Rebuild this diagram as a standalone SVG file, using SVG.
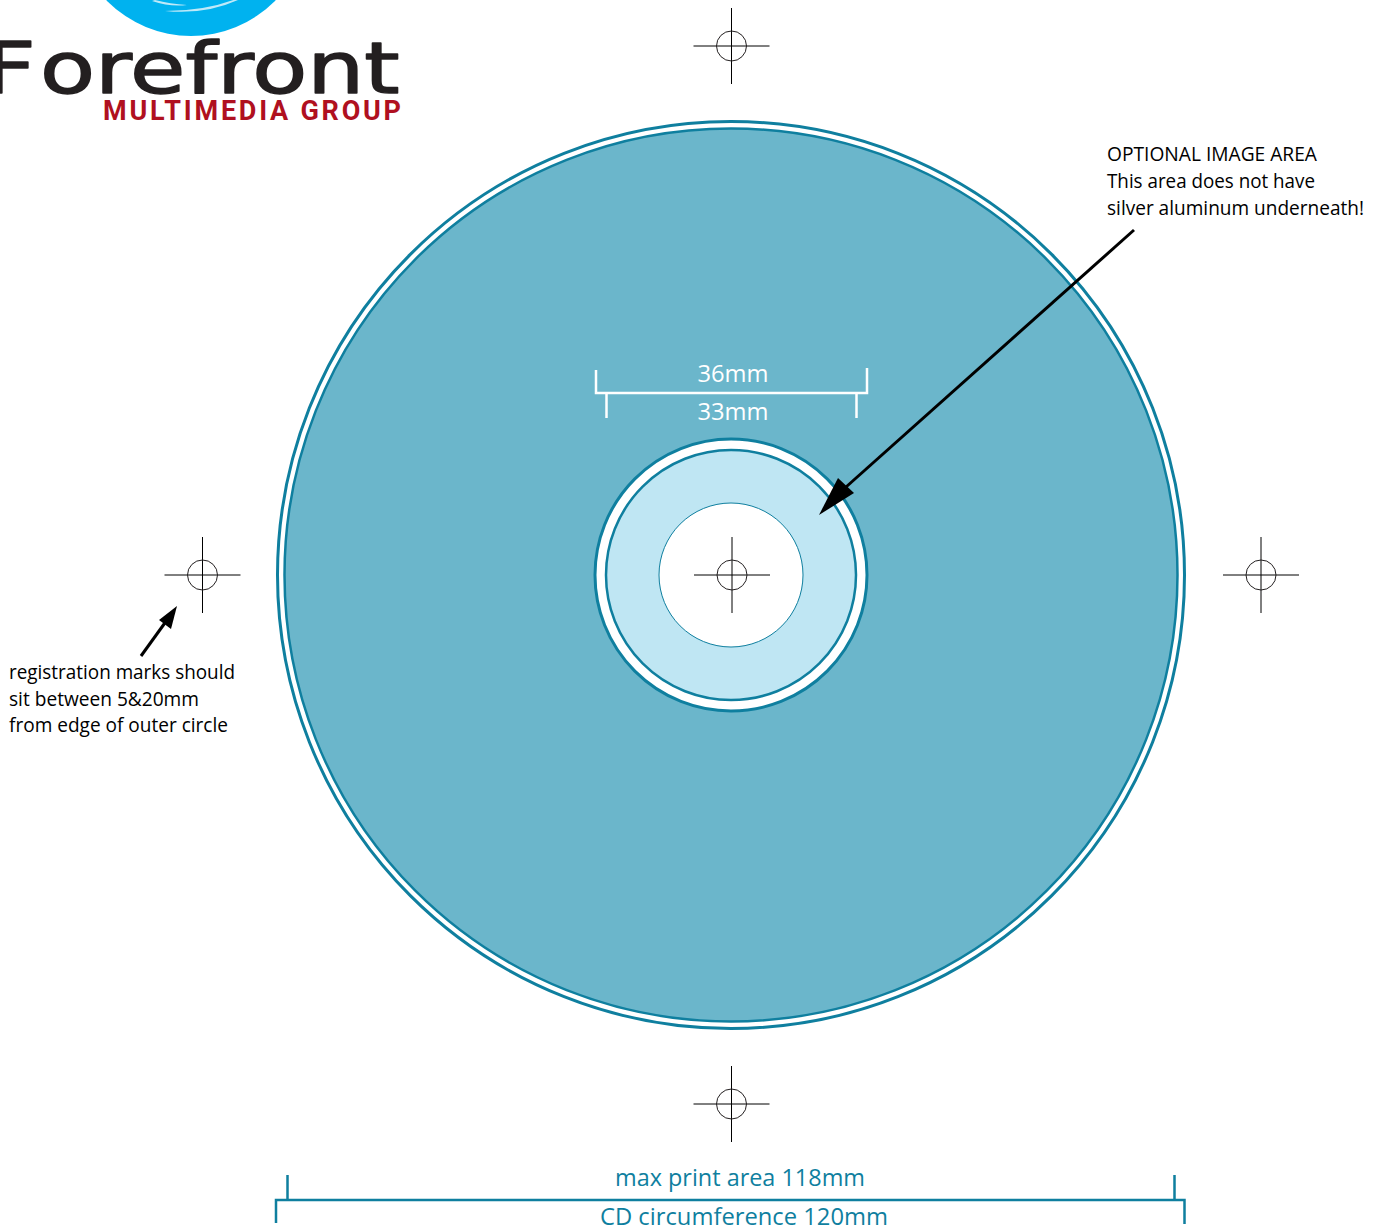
<svg xmlns="http://www.w3.org/2000/svg" width="1375" height="1229" viewBox="0 0 1375 1229">
<style>
.lbl{font-family:"Open Sans","Noto Sans",sans-serif;font-size:20px;fill:#000}
.dimw{font-family:"Open Sans","Noto Sans",sans-serif;font-size:24px;fill:#fff;text-anchor:middle}
.dimb{font-family:"Open Sans","Noto Sans",sans-serif;font-size:24px;fill:#0f7f9f;text-anchor:middle}
.reg line{stroke:#000;stroke-width:1}
.reg circle{fill:none;stroke:#231f20;stroke-width:1}
</style>
<defs>
<g id="regmark" class="reg"><line x1="-38" y1="0" x2="38" y2="0"/><line x1="0" y1="-38" x2="0" y2="38"/><circle r="15"/></g>
</defs>
<rect width="1375" height="1229" fill="#fff"/>
<g id="logo">
<circle cx="191" cy="-82" r="118" fill="#00b2ef"/>
<path d="M155 0Q170 4 187 5Q170 7 152 1Z" fill="#bfe9f8"/>
<path d="M165 11Q205 11 236 -1L238 0Q205 15 165 11Z" fill="#bfe9f8"/>
<g transform="translate(-16 93) scale(1.25 1)"><text x="0" y="0" font-family="'DejaVu Sans',sans-serif" font-size="72" fill="#231f20" stroke="#231f20" stroke-width="1.500" stroke-linejoin="round">F<tspan dx="3.400">orefront</tspan></text></g>
<text x="103" y="119.500" font-family="Roboto,'Liberation Sans',sans-serif" font-size="27" font-weight="700" fill="#b01020" textLength="298" lengthAdjust="spacing">MULTIMEDIA GROUP</text>
</g>
<g id="disc">
<circle cx="731" cy="575" r="453.500" fill="#fff" stroke="#0f7f9f" stroke-width="3"/>
<circle cx="731" cy="575" r="446.500" fill="#6bb6cb" stroke="#0f7f9f" stroke-width="2.500"/>
<circle cx="731" cy="575" r="136" fill="#fff" stroke="#0f7f9f" stroke-width="3"/>
<circle cx="731" cy="575" r="125" fill="#bfe6f3" stroke="#0f7f9f" stroke-width="2.500"/>
<circle cx="731" cy="575" r="72" fill="#fff" stroke="#0f7f9f" stroke-width="1"/>
</g>
<g id="registration-marks">
<use href="#regmark" x="731.500" y="46"/>
<use href="#regmark" x="202.500" y="575"/>
<use href="#regmark" x="1261" y="575"/>
<use href="#regmark" x="731.500" y="1104"/>
<use href="#regmark" x="732" y="575"/>
</g>
<g id="dim-inner">
<path d="M596 370V393H867V368M606.500 393V418M856.500 393V418" fill="none" stroke="#fff" stroke-width="2.500"/>
<text class="dimw" x="733" y="382" textLength="71" lengthAdjust="spacingAndGlyphs">36mm</text>
<text class="dimw" x="733" y="420" textLength="71" lengthAdjust="spacingAndGlyphs">33mm</text>
</g>
<g id="dim-outer">
<path d="M276 1223V1200H1184.500V1224M287.500 1175V1200M1174.500 1175V1200" fill="none" stroke="#0f7f9f" stroke-width="2.500"/>
<text class="dimb" x="740" y="1186" textLength="250" lengthAdjust="spacingAndGlyphs">max print area 118mm</text>
<text class="dimb" x="744" y="1225" textLength="288" lengthAdjust="spacingAndGlyphs">CD circumference 120mm</text>
</g>
<g id="connectors">
<line x1="1134" y1="230" x2="846" y2="487" stroke="#000" stroke-width="3"/>
<polygon points="819,515 838,478 854,493" fill="#000"/>
<line x1="141" y1="656" x2="167" y2="620" stroke="#000" stroke-width="3"/>
<polygon points="177,606 159,620 171,629" fill="#000"/>
</g>
<g id="note-optional">
<text class="lbl" x="1107" y="161" textLength="210" lengthAdjust="spacingAndGlyphs">OPTIONAL IMAGE AREA</text>
<text class="lbl" x="1107" y="188" textLength="208" lengthAdjust="spacingAndGlyphs">This area does not have</text>
<text class="lbl" x="1107" y="215" textLength="257" lengthAdjust="spacingAndGlyphs">silver aluminum underneath!</text>
</g>
<g id="note-registration">
<text class="lbl" x="9" y="679" textLength="226" lengthAdjust="spacingAndGlyphs">registration marks should</text>
<text class="lbl" x="9" y="706" textLength="190" lengthAdjust="spacingAndGlyphs">sit between 5&amp;20mm</text>
<text class="lbl" x="9" y="732" textLength="219" lengthAdjust="spacingAndGlyphs">from edge of outer circle</text>
</g>
</svg>
